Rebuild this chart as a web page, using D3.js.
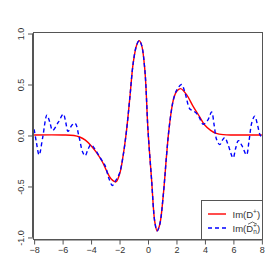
<!DOCTYPE html>
<html><head><meta charset="utf-8">
<script src="https://cdn.jsdelivr.net/npm/d3@7"></script>
<style>html,body{margin:0;padding:0;background:#fff;}svg{display:block;}</style>
</head><body>
<script>
// ---- data ----
const xTicks = [-8, -6, -4, -2, 0, 2, 4, 6, 8];
const yTicks = [-1.0, -0.5, 0.0, 0.5, 1.0];
const yTickLabels = ["-1.0", "-0.5", "0.0", "0.5", "1.0"];

const redX = [-8, -6, -5.2, -4.8, -4.4, -4.0, -3.6, -3.2, -2.9, -2.6, -2.26, -2.0, -1.75, -1.5, -1.27, -1.04, -0.8, -0.62, -0.45, -0.22, 0.0, 0.25, 0.48, 0.64, 0.83, 1.07, 1.3, 1.45, 1.65, 1.8, 2.0, 2.29, 2.71, 3.17, 3.64, 4.0, 4.4, 4.8, 5.3, 6, 8];
const redY = [0.005, 0.005, 0.0, -0.015, -0.045, -0.1, -0.17, -0.26, -0.35, -0.425, -0.455, -0.38, -0.2, 0.06, 0.38, 0.71, 0.886, 0.93, 0.886, 0.64, 0.05, -0.43, -0.85, -0.935, -0.87, -0.59, -0.2, 0.03, 0.25, 0.36, 0.43, 0.46, 0.4, 0.285, 0.18, 0.1, 0.05, 0.02, 0.008, 0.005, 0.005];

const blueX = [-8, -7.85, -7.65, -7.4, -7.1, -6.9, -6.7, -6.3, -5.95, -5.78, -5.62, -5.35, -5.12, -4.85, -4.6, -4.42, -4.2, -4.0, -3.7, -3.35, -3.0, -2.75, -2.5, -2.3, -2.0, -1.75, -1.5, -1.27, -1.04, -0.8, -0.62, -0.45, -0.22, 0.0, 0.25, 0.48, 0.64, 0.83, 1.07, 1.3, 1.45, 1.65, 1.8, 2.0, 2.36, 2.6, 2.94, 3.2, 3.52, 3.88, 4.2, 4.47, 4.65, 4.82, 5.05, 5.25, 5.4, 5.6, 5.98, 6.15, 6.35, 6.6, 6.92, 7.1, 7.3, 7.5, 7.7, 7.86, 8.0];
const blueY = [0.06, -0.06, -0.19, -0.02, 0.2, 0.13, 0.05, 0.13, 0.21, 0.13, 0.04, 0.1, 0.12, -0.01, -0.16, -0.2, -0.13, -0.09, -0.14, -0.22, -0.3, -0.42, -0.49, -0.45, -0.37, -0.2, 0.06, 0.38, 0.71, 0.886, 0.93, 0.886, 0.64, 0.05, -0.43, -0.85, -0.935, -0.87, -0.59, -0.2, 0.03, 0.25, 0.36, 0.44, 0.5, 0.42, 0.26, 0.24, 0.2, 0.11, 0.15, 0.23, 0.1, -0.04, -0.09, -0.04, -0.02, -0.08, -0.22, -0.13, -0.05, -0.1, -0.19, -0.05, 0.13, 0.19, 0.1, 0.01, -0.02];

// ---- layout ----
const W = 280, H = 280;
const L = 33, R = 263, T = 32.5, B = 239.5;
const font = "'Liberation Sans', Arial, Helvetica, sans-serif";
const axisCol = "#555", textCol = "#333";

const svg = d3.select("body").append("svg").attr("width", W).attr("height", H);
svg.append("rect").attr("width", W).attr("height", H).attr("fill", "#fff");

const x = d3.scaleLinear().domain([-8.08, 8.08]).range([L, R]);
const y = d3.scaleLinear().domain([-1.02, 1.01]).range([B, T]);

svg.append("clipPath").attr("id", "clip").append("rect")
  .attr("x", L).attr("y", T).attr("width", R - L).attr("height", B - T);

const line = d3.line().x(d => x(d[0])).y(d => y(d[1])).curve(d3.curveCatmullRom.alpha(0.5));
const g = svg.append("g").attr("clip-path", "url(#clip)");
g.append("path").datum(d3.zip(redX, redY)).attr("d", line)
  .attr("fill", "none").attr("stroke", "#ff0000").attr("stroke-width", 1.4);
g.append("path").datum(d3.zip(blueX, blueY)).attr("d", line)
  .attr("fill", "none").attr("stroke", "#0000ff").attr("stroke-width", 1.4)
  .attr("stroke-dasharray", "4,3");

// axes
const xAxis = d3.axisBottom(x).tickValues(xTicks).tickSize(5).tickPadding(2.5)
  .tickFormat(d3.format("d"));
const gx = svg.append("g").attr("transform", `translate(0,${B})`).call(xAxis);
gx.select(".domain").attr("d", `M${x(-8)},0.5H${x(8)}`);
const yAxis = d3.axisLeft(y).tickValues(yTicks).tickSize(5).tickPadding(3)
  .tickFormat((d, i) => yTickLabels[i]);
const gy = svg.append("g").attr("transform", `translate(${L},0)`).call(yAxis);
gy.select(".domain").attr("d", `M-0.5,${y(-1)}V${y(1)}`);
[gx, gy].forEach(a => {
  a.selectAll("path,line").attr("stroke", axisCol);
  a.selectAll("text").attr("fill", textCol).attr("font-family", font).attr("font-size", 9);
});
gx.selectAll(".tick text").attr("dy", "0.71em");
gy.selectAll(".tick text")
  .attr("text-anchor", "middle").attr("dy", 0).attr("x", 0)
  .attr("transform", "translate(-9,0) rotate(-90)");

// box
svg.append("rect").attr("x", L + 0.5).attr("y", T).attr("width", R - L - 1).attr("height", B - T)
  .attr("fill", "none").attr("stroke", axisCol).attr("stroke-width", 1);

// legend
const lg = svg.append("g");
const lx0 = 201.5, ly0 = 200.5, lx1 = 262.5, ly1 = B;
lg.append("rect").attr("x", lx0).attr("y", ly0).attr("width", lx1 - lx0).attr("height", ly1 - ly0)
  .attr("fill", "#fff").attr("stroke", axisCol).attr("stroke-width", 1);
lg.append("line").attr("x1", 208).attr("x2", 226).attr("y1", 214).attr("y2", 214)
  .attr("stroke", "#ff0000").attr("stroke-width", 1.4);
lg.append("line").attr("x1", 208).attr("x2", 226).attr("y1", 228).attr("y2", 228)
  .attr("stroke", "#0000ff").attr("stroke-width", 1.4).attr("stroke-dasharray", "4,3");
const t1 = lg.append("text").attr("x", 232.5).attr("y", 217.5).attr("font-family", font)
  .attr("font-size", 9.5).attr("fill", textCol);
t1.append("tspan").text("Im(D");
t1.append("tspan").attr("dy", -3.8).attr("font-size", 6.5).text("+");
t1.append("tspan").attr("dy", 3.8).text(")");
const t2 = lg.append("text").attr("x", 232.5).attr("y", 231.5).attr("font-family", font)
  .attr("font-size", 9.5).attr("fill", textCol);
t2.append("tspan").text("Im(D");
t2.append("tspan").attr("dy", -3.8).attr("font-size", 6.5).text("+");
t2.append("tspan").attr("dx", -3.6).attr("dy", 5.8).attr("font-size", 6.5).text("n");
t2.append("tspan").attr("dy", -2).text(")");
// wide hat over D_n^+
lg.append("path").attr("d", "M248,224.2 L252.5,222 L257,224.2")
  .attr("fill", "none").attr("stroke", textCol).attr("stroke-width", 0.7);
</script>
</body></html>
